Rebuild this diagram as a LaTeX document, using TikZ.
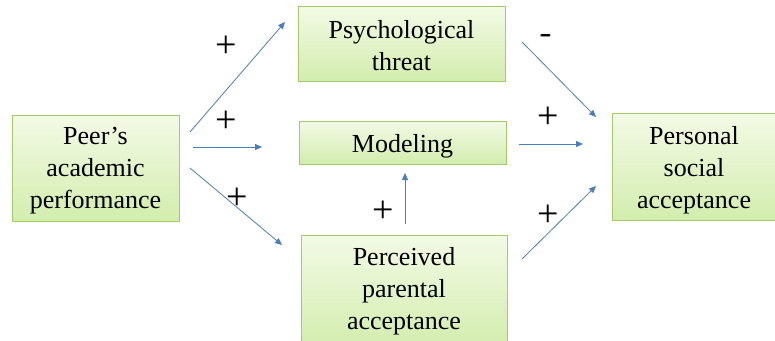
\documentclass[tikz,border=0pt]{standalone}
\usepackage{fontspec}
\setmainfont{Liberation Serif}
\newfontfamily\boxfont{Liberation Serif}
\usetikzlibrary{arrows.meta}
\definecolor{boxtop}{HTML}{F3FAE6}
\definecolor{boxbot}{HTML}{D3EDAE}
\definecolor{boxline}{HTML}{A3CC68}
\definecolor{arr}{HTML}{4A7EBB}
\tikzset{
  box/.style={draw=boxline, line width=1pt, top color=boxtop, bottom color=boxbot},
  lbl/.style={align=center, inner sep=0pt, font=\boxfont\fontsize{26}{32}\selectfont},
  conn/.style={draw=arr, line width=0.8pt, -{Triangle[length=7pt,width=6pt]}},
  sign/.style={font=\boxfont\fontsize{38}{38}\selectfont, inner sep=0pt}
}
\begin{document}
\begin{tikzpicture}[x=1pt,y=-1pt]
\useasboundingbox (0,0) rectangle (775,340);
% boxes
\path[box] (12,115) rectangle (179,221);
\node (peer) [lbl] at (95.5,171) {Peer’s\\academic\\performance};
\path[box] (298,6) rectangle (505,81);
\node (psych) [lbl] at (401.5,46) {Psychological\\threat};
\path[box] (299,121) rectangle (506,164);
\node (model) [lbl] at (402.5,146) {Modeling};
\path[box] (301,235) rectangle (507,346);
\node (perc) [lbl] at (404,291) {Perceived\\parental\\acceptance};
\path[box] (612,113) rectangle (775,220);
\node (pers) [lbl] at (694,170) {Personal\\social\\acceptance};
% arrow endpoints
\coordinate (a1s) at (190,132); \coordinate (a1e) at (285,22);
\coordinate (a2s) at (193,147); \coordinate (a2e) at (262,147);
\coordinate (a3s) at (190,168); \coordinate (a3e) at (282,245);
\coordinate (b1s) at (522,42);  \coordinate (b1e) at (596,117);
\coordinate (b2s) at (519,144); \coordinate (b2e) at (583,144);
\coordinate (b3s) at (522,259); \coordinate (b3e) at (596,186);
\coordinate (c1s) at (405,224); \coordinate (c1e) at (405,173);
\draw[conn] (a1s) -- (a1e);
\draw[conn] (a2s) -- (a2e);
\draw[conn] (a3s) -- (a3e);
\draw[conn] (b1s) -- (b1e);
\draw[conn] (b2s) -- (b2e);
\draw[conn] (b3s) -- (b3e);
\draw[conn] (c1s) -- (c1e);
% signs
\node[sign] (s1) at (226,47) {+};
\node[sign] (s2) at (226,122) {+};
\node[sign] (s3) at (237,199) {+};
\node[sign, font=\sffamily\bfseries\fontsize{34}{34}\selectfont] (s4) at (547,39) {-};
\node[sign] (s5) at (548,118) {+};
\node[sign] (s6) at (548,216) {+};
\node[sign] (s7) at (383,212) {+};
\end{tikzpicture}
\end{document}
